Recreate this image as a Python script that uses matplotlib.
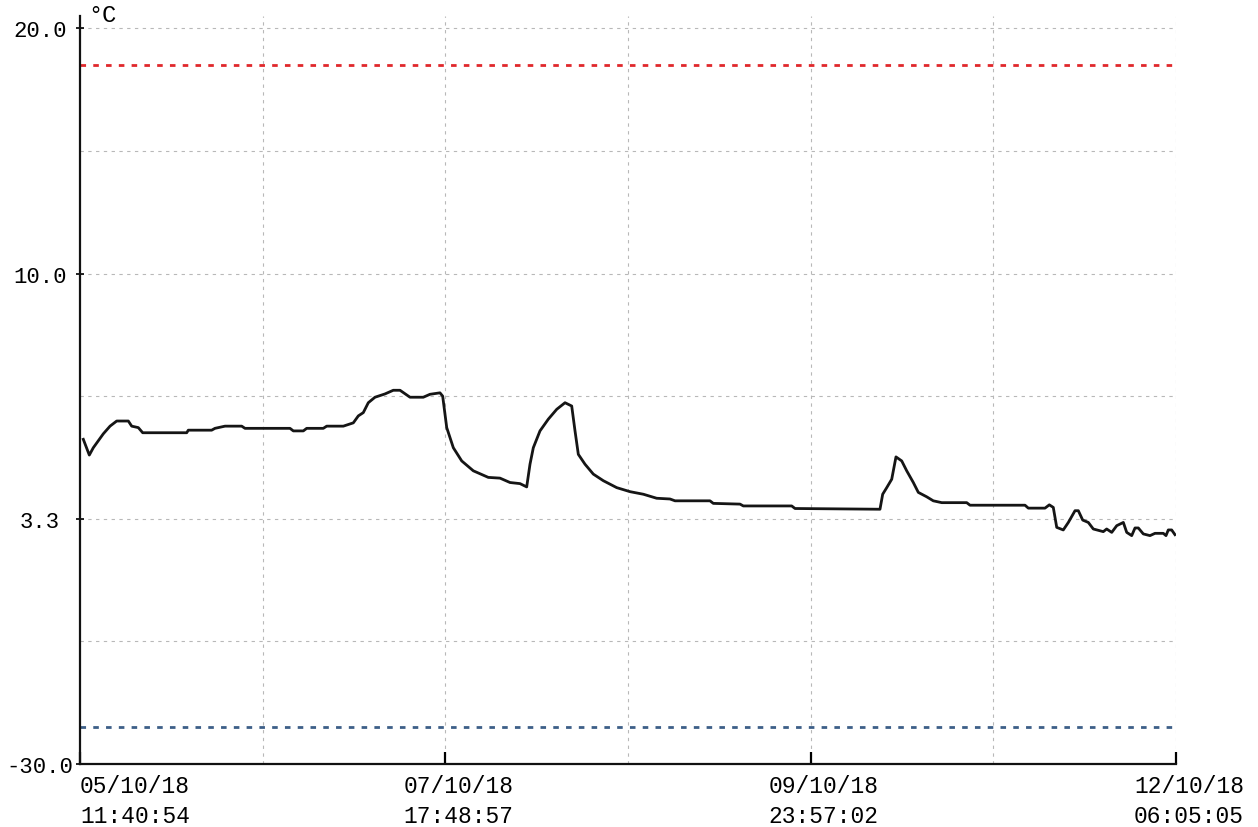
import datetime as dt
import numpy as np
import matplotlib
matplotlib.use("Agg")
import matplotlib.pyplot as plt
import matplotlib.dates as mdates
import matplotlib.transforms as mtransforms

plt.rcParams['font.family'] = ['Liberation Mono', 'DejaVu Sans Mono']

# time axis
start = dt.datetime(2018, 10, 5, 11, 40, 54)
end = dt.datetime(2018, 10, 12, 6, 5, 5)
tick_times = [start,
              dt.datetime(2018, 10, 7, 17, 48, 57),
              dt.datetime(2018, 10, 9, 23, 57, 2),
              end]
tick_labels = ["05/10/18\n11:40:54", "07/10/18\n17:48:57",
               "09/10/18\n23:57:02", "12/10/18\n06:05:05"]

# temperature axis (logger uses a segmented scale)
y_ticks = [-30.0, 3.3, 10.0, 20.0]
y_labels = ["-30.0", "3.3", "10.0", "20.0"]
y_minor = [-13.35, 6.65, 15.0]
seg_t = [-90.0, -30.0, 3.3, 10.0, 20.0, 40.0]
seg_u = [-4.0, 0.0, 2.0, 4.0, 6.0, 10.0]

alarm_high = 18.5
alarm_low = -25.0

# hours since start, temperature in degC
hours = [0.49, 1.38, 1.97, 3.45, 4.45, 5.44, 7.16, 7.66, 8.64, 9.29,
         15.81, 16.05, 19.51, 20.0, 21.49, 23.96, 24.45, 31.12, 31.61, 33.09,
         33.59, 36.05, 36.56, 39.02, 40.50, 41.24, 41.98, 42.72, 43.71, 45.19,
         46.42, 47.42, 48.90, 50.87, 51.86, 53.34, 53.74, 54.34, 55.32, 56.56,
         58.28, 60.50, 62.23, 63.72, 65.20, 66.19, 66.68, 67.17, 68.16, 69.39,
         70.64, 71.87, 72.86, 73.35, 73.84, 74.83, 76.06, 77.54, 79.53, 81.50,
         83.47, 85.45, 87.42, 88.17, 93.35, 93.84, 97.80, 98.29, 105.46, 105.95,
         118.54, 118.94, 119.54, 120.28, 120.91, 121.76, 122.50, 123.48, 124.22, 125.46,
         126.44, 127.69, 131.39, 131.88, 140.03, 140.52, 142.99, 143.63, 144.22, 144.73,
         145.70, 146.45, 147.44, 147.93, 148.58, 149.41, 150.15, 151.63, 152.13, 152.88,
         153.62, 154.60, 155.10, 155.84, 156.33, 156.82, 157.56, 158.55, 159.29, 160.52,
         160.92, 161.26, 161.76, 162.25]
temps = [5.47, 5.04, 5.24, 5.62, 5.83, 5.97, 5.97, 5.83, 5.79, 5.65,
         5.65, 5.72, 5.72, 5.77, 5.83, 5.83, 5.77, 5.77, 5.70, 5.70,
         5.77, 5.77, 5.83, 5.83, 5.92, 6.11, 6.20, 6.47, 6.62, 6.71,
         6.81, 6.81, 6.62, 6.62, 6.70, 6.74, 6.65, 5.79, 5.24, 4.88,
         4.61, 4.43, 4.41, 4.29, 4.26, 4.17, 4.79, 5.24, 5.70, 6.02,
         6.29, 6.47, 6.38, 5.70, 5.06, 4.79, 4.52, 4.34, 4.15, 4.04,
         3.97, 3.86, 3.84, 3.79, 3.79, 3.72, 3.70, 3.65, 3.65, 3.58,
         3.56, 3.97, 4.15, 4.38, 4.99, 4.88, 4.61, 4.29, 4.02, 3.90,
         3.79, 3.74, 3.74, 3.67, 3.67, 3.59, 3.59, 3.68, 3.61, 2.13,
         1.78, 2.80, 3.52, 3.52, 3.12, 2.80, 1.91, 1.55, 1.91, 1.45,
         2.36, 2.80, 1.45, 1.01, 2.05, 2.05, 1.24, 1.01, 1.32, 1.32,
         1.01, 1.78, 1.78, 1.14]


def fwd(t):
    return np.interp(t, seg_t, seg_u)


def inv(u):
    return np.interp(u, seg_u, seg_t)


t0 = mdates.date2num(start)
t1 = mdates.date2num(end)
x = t0 + np.array(hours) / 24.0

fig = plt.figure(figsize=(12.58, 8.28), dpi=100)
ax = fig.add_axes([80/1258, 63/828, 1096/1258, 748/828])
ax.set_yscale('function', functions=(fwd, inv))

grid_kw = dict(color='#b8b8b8', lw=0.8, ls=(0, (3, 4)), zorder=0)
for gx in np.linspace(t0, t1, 7)[1:]:
    ax.axvline(gx, **grid_kw)
for gy in sorted(y_ticks[1:] + y_minor):
    ax.axhline(gy, **grid_kw)

ax.axhline(alarm_high, color='#e0282c', lw=2.0, ls=(0, (2.0, 2.6)), zorder=2)
ax.axhline(alarm_low, color='#3d5f88', lw=2.0, ls=(0, (2.0, 2.6)), zorder=2)
ax.plot(x, temps, color='#151515', lw=2.0, zorder=3)

ax.set_xlim(t0, t1)
ax.set_ylim(-30, 20.5)

ax.set_yticks(y_ticks)
ax.set_yticklabels(y_labels)
ax.set_yticks([], minor=True)
ax.tick_params(axis='y', direction='inout', length=6, width=1.2, pad=26, labelsize=16)
plt.setp(ax.get_yticklabels(), ha='center')

ax.set_xticks([mdates.date2num(t) for t in tick_times])
ax.set_xticklabels(tick_labels, linespacing=1.38)
ax.set_xticks([], minor=True)
ax.tick_params(axis='x', direction='in', length=9, width=1.6, pad=7, labelsize=16.5)
labs = ax.get_xticklabels()
labs[0].set_ha('left')
offset = mtransforms.ScaledTranslation(0.13, 0, fig.dpi_scale_trans)
for lab in labs[1:]:
    lab.set_ha('center')
    lab.set_transform(lab.get_transform() + offset)

for s in ['top', 'right']:
    ax.spines[s].set_visible(False)
for s in ['left', 'bottom']:
    ax.spines[s].set_linewidth(1.6)
    ax.spines[s].set_color('#111111')

fig.text(88/1258, 1 - 15/828, '°C', fontsize=17, va='center', ha='left')

fig.savefig('out.png', dpi=100)
